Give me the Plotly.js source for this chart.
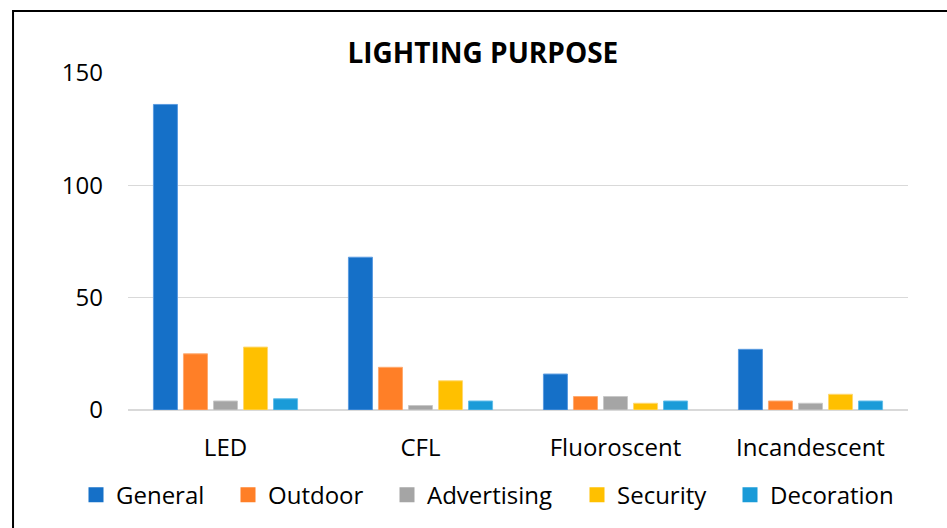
<!DOCTYPE html>
<html>
<head>
<meta charset="utf-8">
<script src="https://cdn.plot.ly/plotly-3.0.1.min.js"></script>
<style>html,body{margin:0;padding:0;background:#fff;}#chart{width:947px;height:528px;}</style>
</head>
<body>
<div id="chart"></div>
<script>
const categories = ["LED", "CFL", "Fluoroscent", "Incandescent"];
const seriesNames = ["General", "Outdoor", "Advertising", "Security", "Decoration"];
const general = [136, 68, 16, 27];
const outdoor = [25, 19, 6, 4];
const advertising = [4, 2, 6, 3];
const security = [28, 13, 3, 7];
const decoration = [5, 4, 4, 4];
const seriesValues = [general, outdoor, advertising, security, decoration];
const colors = ["#1570C8", "#FF7F27", "#A5A5A5", "#FFC000", "#1A9BD8"];
const edgeColors = ["#5A9BE0", "#FFAA70", "#C8C8C8", "#FFD870", "#60BDEA"];
const yTicks = [0, 50, 100, 150];

const FONT = "'Open Sans', Lato, sans-serif";

// legend left positions (px in figure) for each series entry
const legendPx = [88, 240, 399, 589, 742];
const plotL = 128, plotW = 780;

const traces = seriesNames.map((name, i) => ({
  type: "bar",
  name: name,
  x: categories,
  y: seriesValues[i],
  showlegend: false,
  marker: { color: colors[i], line: { color: edgeColors[i], width: 1 } }
}));

// legend entries (square swatches) placed in their own legends
seriesNames.forEach((name, i) => {
  traces.push({
    type: "scatter",
    mode: "markers",
    name: name,
    x: [null],
    y: [null],
    legend: i === 0 ? "legend" : "legend" + (i + 1),
    marker: { symbol: "square", size: 15, color: colors[i] }
  });
});

const layout = {
  width: 947,
  height: 528,
  margin: { l: 128, r: 39, t: 73, b: 118, autoexpand: false },
  paper_bgcolor: "#ffffff",
  plot_bgcolor: "#ffffff",
  barmode: "group",
  bargap: 0.23,
  bargroupgap: 0.2,
  font: { family: FONT, color: "#000000", size: 22 },
  title: {
    text: "<b>LIGHTING PURPOSE</b>",
    font: { family: FONT, size: 28, color: "#000000" },
    x: 0.455, xanchor: "center", xref: "paper",
    y: 0.9, yanchor: "middle", yref: "container"
  },
  xaxis: {
    type: "category",
    showgrid: false,
    showline: false,
    zeroline: false,
    ticks: "",
    ticklabelstandoff: 21,
    tickfont: { family: FONT, size: 24, color: "#000000" }
  },
  yaxis: {
    range: [0, 150],
    tickvals: yTicks,
    ticktext: yTicks.map(String),
    showgrid: true,
    gridcolor: "#D9D9D9",
    gridwidth: 1.5,
    zeroline: true,
    zerolinecolor: "#D9D9D9",
    zerolinewidth: 2,
    showline: false,
    ticks: "",
    ticklabelstandoff: 24,
    tickfont: { family: FONT, size: 24, color: "#000000" }
  },
  showlegend: true,
  shapes: [
    { type: "path", xref: "paper", yref: "paper",
      path: "M -0.1474 -0.4 L -0.1474 1.184 L 1.1 1.184",
      line: { color: "#000000", width: 2 } }
  ]
};

seriesNames.forEach((name, i) => {
  const key = i === 0 ? "legend" : "legend" + (i + 1);
  layout[key] = {
    orientation: "h",
    x: (legendPx[i] - 12 - plotL) / plotW, xanchor: "left",
    y: -0.253, yanchor: "middle",
    font: { family: FONT, size: 24, color: "#000000" },
    itemwidth: 30,
    bgcolor: "rgba(0,0,0,0)"
  };
});

Plotly.newPlot("chart", traces, layout, { displayModeBar: false, staticPlot: true });
</script>
</body>
</html>
